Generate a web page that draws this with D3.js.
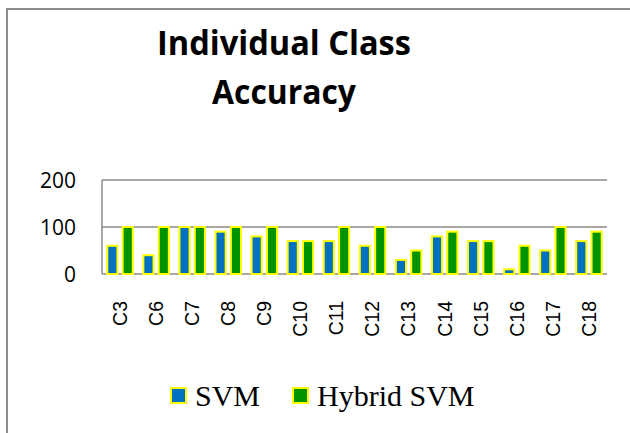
<!DOCTYPE html>
<html>
<head>
<meta charset="utf-8">
<script src="https://cdn.jsdelivr.net/npm/d3@7"></script>
<style>
  body { margin: 0; background: #fff; }
  svg { display: block; }
</style>
</head>
<body>
<svg width="630" height="433"></svg>
<script>
// данные диаграммы
const classes = ["C3", "C6", "C7", "C8", "C9", "C10", "C11", "C12", "C13", "C14", "C15", "C16", "C17", "C18"];
const seriesNames = ["SVM", "Hybrid SVM"];
const svmValues = [60, 40, 100, 90, 80, 70, 70, 60, 30, 80, 70, 10, 50, 70];
const hybridValues = [100, 100, 100, 100, 100, 70, 100, 100, 50, 90, 70, 60, 100, 90];
const yTicks = [0, 100, 200];
const titleLines = ["Individual Class", "Accuracy"];

const colors = { "SVM": "#0070C0", "Hybrid SVM": "#009300" };
const edge = "#FFFF00";

const svg = d3.select("svg");

// внешняя рамка
svg.append("rect")
  .attr("x", 7).attr("y", 9)
  .attr("width", 640).attr("height", 440)
  .attr("fill", "none")
  .attr("stroke", "#8c8c8c")
  .attr("stroke-width", 2);

// заголовок
svg.append("g").selectAll("text")
  .data(titleLines)
  .enter()
  .append("text")
  .attr("x", 284)
  .attr("y", (d, i) => 55 + i * 49)
  .attr("text-anchor", "middle")
  .attr("textLength", (d, i) => i === 0 ? 254 : 144)
  .attr("lengthAdjust", "spacingAndGlyphs")
  .style("font-family", "'Open Sans', Roboto, sans-serif")
  .style("font-weight", "bold")
  .style("font-size", "34px")
  .text(d => d);

const area = { left: 102, right: 607, top: 180, bottom: 274 };

const scX = d3.scaleBand()
  .domain(classes)
  .range([area.left, area.right]);

const scSeries = d3.scaleBand()
  .domain(seriesNames)
  .range([0, scX.bandwidth()])
  .paddingInner(0.21)
  .paddingOuter(0.28);

const scY = d3.scaleLinear()
  .domain([0, 200])
  .range([area.bottom, area.top]);

// сетка
svg.append("g").selectAll("line")
  .data(yTicks)
  .enter()
  .append("line")
  .attr("x1", area.left).attr("x2", area.right)
  .attr("y1", d => scY(d)).attr("y2", d => scY(d))
  .attr("stroke", "#8a8a8a")
  .attr("stroke-width", 1.5);

svg.append("line")
  .attr("x1", area.left).attr("x2", area.left)
  .attr("y1", area.top).attr("y2", area.bottom)
  .attr("stroke", "#8a8a8a")
  .attr("stroke-width", 1.5);

// подписи оси Y
svg.append("g").selectAll("text")
  .data(yTicks)
  .enter()
  .append("text")
  .attr("x", 76)
  .attr("y", d => scY(d))
  .attr("dy", "0.36em")
  .attr("text-anchor", "end")
  .style("font-family", "'Open Sans', sans-serif")
  .style("font-size", "21px")
  .text(d => d);

// столбики
const rows = classes.map((c, i) => ({ label: c, values: [svmValues[i], hybridValues[i]] }));

const groups = svg.append("g").selectAll("g")
  .data(rows)
  .enter()
  .append("g")
  .attr("transform", d => `translate(${scX(d.label)},0)`);

groups.selectAll("rect")
  .data(d => seriesNames.map((s, k) => ({ series: s, value: d.values[k] })))
  .enter()
  .append("rect")
  .attr("x", d => scSeries(d.series) + 1)
  .attr("width", scSeries.bandwidth() - 2)
  .attr("y", d => scY(d.value))
  .attr("height", d => scY(0) - scY(d.value))
  .attr("fill", d => colors[d.series])
  .attr("stroke", edge)
  .attr("stroke-width", 2);

// подписи оси X
svg.append("g").selectAll("text")
  .data(classes)
  .enter()
  .append("text")
  .attr("transform", d => `translate(${scX(d) + scX.bandwidth() / 2},301) rotate(-90)`)
  .attr("dy", "0.35em")
  .attr("text-anchor", "end")
  .style("font-family", "'Liberation Sans', Arial, sans-serif")
  .style("font-size", "19.5px")
  .text(d => d);

// легенда
const legendX = [171, 293];
const legend = svg.append("g").selectAll("g")
  .data(seriesNames)
  .enter()
  .append("g")
  .attr("transform", (d, i) => `translate(${legendX[i]},388)`);

legend.append("rect")
  .attr("width", 15).attr("height", 15)
  .attr("fill", d => colors[d])
  .attr("stroke", edge)
  .attr("stroke-width", 2);

legend.append("text")
  .attr("x", 24)
  .attr("y", 18)
  .style("font-family", "'Liberation Serif', 'Times New Roman', serif")
  .style("font-size", "30px")
  .text(d => d);
</script>
</body>
</html>
